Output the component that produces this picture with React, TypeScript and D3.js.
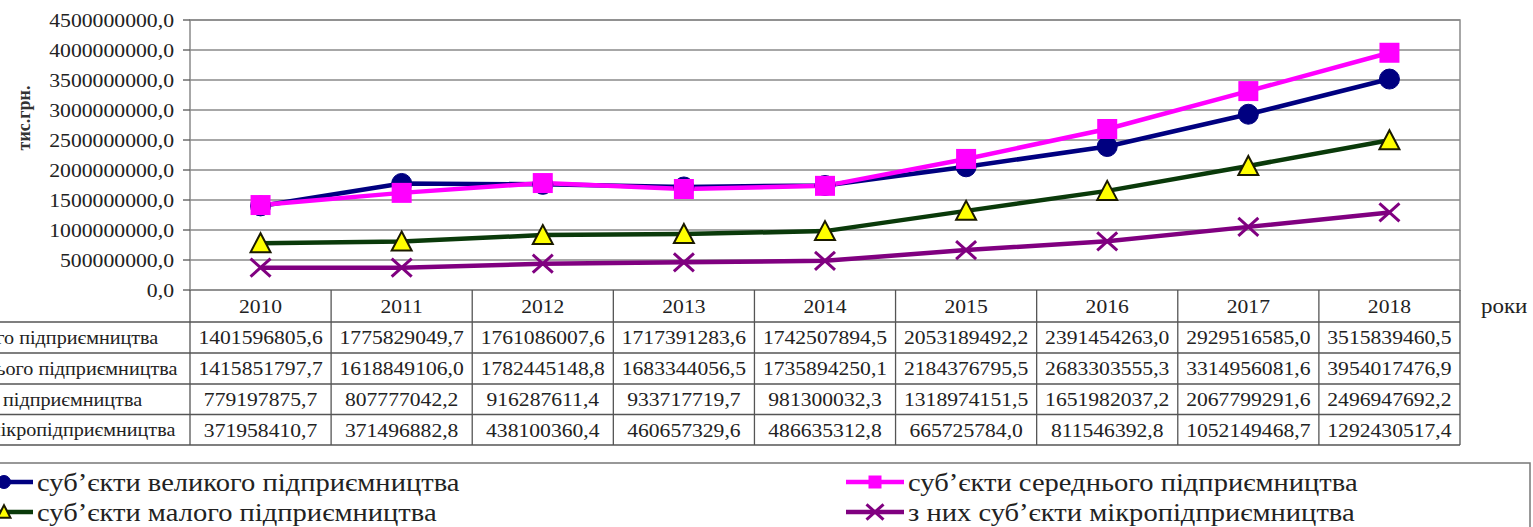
import React from "react";
import * as d3 from "d3";

// Years shown on the category axis and in the table header
const years = ["2010", "2011", "2012", "2013", "2014", "2015", "2016", "2017", "2018"];

// Series names (table rows and legend)
const seriesNames = [
  "суб’єкти великого підприємництва",
  "суб’єкти середнього підприємництва",
  "суб’єкти малого підприємництва",
  "з них суб’єкти мікропідприємництва",
];

// Values, тис.грн.
const largeValues = [1401596805.6, 1775829049.7, 1761086007.6, 1717391283.6, 1742507894.5, 2053189492.2, 2391454263.0, 2929516585.0, 3515839460.5];
const mediumValues = [1415851797.7, 1618849106.0, 1782445148.8, 1683344056.5, 1735894250.1, 2184376795.5, 2683303555.3, 3314956081.6, 3954017476.9];
const smallValues = [779197875.7, 807777042.2, 916287611.4, 933717719.7, 981300032.3, 1318974151.5, 1651982037.2, 2067799291.6, 2496947692.2];
const microValues = [371958410.7, 371496882.8, 438100360.4, 460657329.6, 486635312.8, 665725784.0, 811546392.8, 1052149468.7, 1292430517.4];

// Y axis ticks
const yTicks = [0, 500000000, 1000000000, 1500000000, 2000000000, 2500000000, 3000000000, 3500000000, 4000000000, 4500000000];

const yTitle = "тис.грн.";
const xTitle = "роки";

type Marker = "circle" | "square" | "triangle" | "cross";
const series: { name: string; values: number[]; color: string; marker: Marker }[] = [
  { name: seriesNames[0], values: largeValues, color: "#000080", marker: "circle" },
  { name: seriesNames[1], values: mediumValues, color: "#FF00FF", marker: "square" },
  { name: seriesNames[2], values: smallValues, color: "#0A3A0A", marker: "triangle" },
  { name: seriesNames[3], values: microValues, color: "#800080", marker: "cross" },
];

const W = 1533;
const H = 527;
const FONT = "'Liberation Serif', Tinos, 'Times New Roman', 'DejaVu Serif', serif";
const STRETCH = 1.12; // horizontal text stretch

const plot = { left: 190, right: 1460, top: 20, bottom: 290 };
const rowLines = [322, 353, 384, 414.5, 445];

const fmt = (v: number) => v.toFixed(1).replace(".", ",");

// Text drawn with a slight horizontal stretch around its anchor point
function SText({
  x,
  y,
  size,
  anchor = "start",
  children,
}: {
  x: number;
  y: number;
  size: number;
  anchor?: "start" | "middle" | "end";
  children: React.ReactNode;
}) {
  return (
    <text transform={`translate(${x},${y}) scale(${STRETCH},1)`} dy="0.35em" textAnchor={anchor} fontSize={size}>
      {children}
    </text>
  );
}

function MarkerShape({ kind, color, x, y, s }: { kind: Marker; color: string; x: number; y: number; s: number }) {
  if (kind === "circle") return <circle cx={x} cy={y} r={s / 2} fill={color} stroke={color} strokeWidth={1} />;
  if (kind === "square") return <rect x={x - s / 2} y={y - s / 2} width={s} height={s} fill={color} />;
  if (kind === "triangle") {
    const h = s * 0.9;
    const p = `${x},${y - h / 2 - 1} ${x + s / 2},${y + h / 2} ${x - s / 2},${y + h / 2}`;
    return <polygon points={p} fill="#FFFF00" stroke="#1a1a00" strokeWidth={2} strokeLinejoin="miter" />;
  }
  const a = s / 2;
  const b = s * 0.45;
  return (
    <g stroke={color} strokeWidth={3}>
      <line x1={x - a} y1={y - b} x2={x + a} y2={y + b} />
      <line x1={x - a} y1={y + b} x2={x + a} y2={y - b} />
    </g>
  );
}

export default function App() {
  const x = d3.scaleBand<string>().domain(years).range([plot.left, plot.right]);
  const y = d3.scaleLinear().domain([0, 4500000000]).range([plot.bottom, plot.top]);
  const cx = (yr: string) => (x(yr) as number) + x.bandwidth() / 2;
  const line = d3
    .line<number>()
    .x((_, i) => cx(years[i]))
    .y((v) => y(v));

  const legendItems = [
    { s: series[0], lx: 4, ly: 482 },
    { s: series[1], lx: 875, ly: 482 },
    { s: series[2], lx: 4, ly: 512 },
    { s: series[3], lx: 875, ly: 512 },
  ];

  const headerY = (plot.bottom + rowLines[0]) / 2;

  return (
    <svg width={W} height={H} style={{ position: "absolute", left: 0, top: 0, background: "#fff" }}>
      <rect width={W} height={H} fill="#fff" />

      {/* gridlines */}
      {yTicks.map((t) => (
        <line key={t} x1={plot.left} x2={plot.right} y1={y(t)} y2={y(t)} stroke="#8a8a8a" strokeWidth={1.3} />
      ))}
      {/* plot border */}
      <rect x={plot.left} y={plot.top} width={plot.right - plot.left} height={plot.bottom - plot.top} fill="none" stroke="#8a8a8a" strokeWidth={1.5} />

      {/* y axis ticks */}
      {yTicks.map((t) => (
        <line key={"tk" + t} x1={plot.left - 7} x2={plot.left} y1={y(t)} y2={y(t)} stroke="#555" strokeWidth={1.3} />
      ))}

      <g style={{ fontFamily: FONT }} fill="#222">
        {yTicks.map((t) => (
          <SText key={"t" + t} x={174} y={y(t)} size={19.4} anchor="end">
            {fmt(t)}
          </SText>
        ))}
        <text transform={`translate(24,118) rotate(-90)`} textAnchor="middle" fontSize={18} fontWeight="bold" fill="#333" dy="0.35em">
          {yTitle}
        </text>
      </g>

      {/* series lines */}
      {series.map((s) => (
        <path key={s.name} d={line(s.values) as string} fill="none" stroke={s.color} strokeWidth={4.5} strokeLinejoin="round" />
      ))}
      {/* series markers */}
      {series.map((s) =>
        s.values.map((v, i) => (
          <MarkerShape key={s.name + i} kind={s.marker} color={s.color} x={cx(years[i])} y={y(v)} s={20} />
        ))
      )}

      {/* data table grid */}
      <g stroke="#555" strokeWidth={1.3}>
        {rowLines.map((ly) => (
          <line key={ly} x1={0} x2={plot.right} y1={ly} y2={ly} />
        ))}
        {years.map((yr) => (
          <line key={yr} x1={x(yr) as number} x2={x(yr) as number} y1={plot.bottom} y2={rowLines[rowLines.length - 1]} />
        ))}
        <line x1={plot.right} x2={plot.right} y1={plot.bottom} y2={rowLines[rowLines.length - 1]} />
      </g>

      <g style={{ fontFamily: FONT }} fill="#222">
        {years.map((yr) => (
          <SText key={yr} x={cx(yr)} y={headerY} size={19.3} anchor="middle">
            {yr}
          </SText>
        ))}
        <SText x={1481} y={headerY} size={20.5}>
          {xTitle}
        </SText>
        {series.map((s, r) => {
          const ty = (rowLines[r] + rowLines[r + 1]) / 2;
          return (
            <g key={"row" + r}>
              <SText x={-140} y={ty} size={18}>
                {s.name}
              </SText>
              {s.values.map((v, i) => (
                <SText key={i} x={cx(years[i])} y={ty} size={19.3} anchor="middle">
                  {fmt(v)}
                </SText>
              ))}
            </g>
          );
        })}

        {/* legend */}
        <rect x={-20} y={463} width={1550} height={100} fill="none" stroke="#777" strokeWidth={1.5} />
        {legendItems.map(({ s, lx, ly }) => (
          <g key={"lg" + s.name}>
            <line x1={lx - 29} x2={lx + 29} y1={ly} y2={ly} stroke={s.color} strokeWidth={4.5} />
            <MarkerShape kind={s.marker} color={s.color} x={lx} y={ly} s={s.marker === "cross" ? 17 : 13} />
            <SText x={lx + 33} y={ly} size={25.5}>
              {s.name}
            </SText>
          </g>
        ))}
      </g>
    </svg>
  );
}
